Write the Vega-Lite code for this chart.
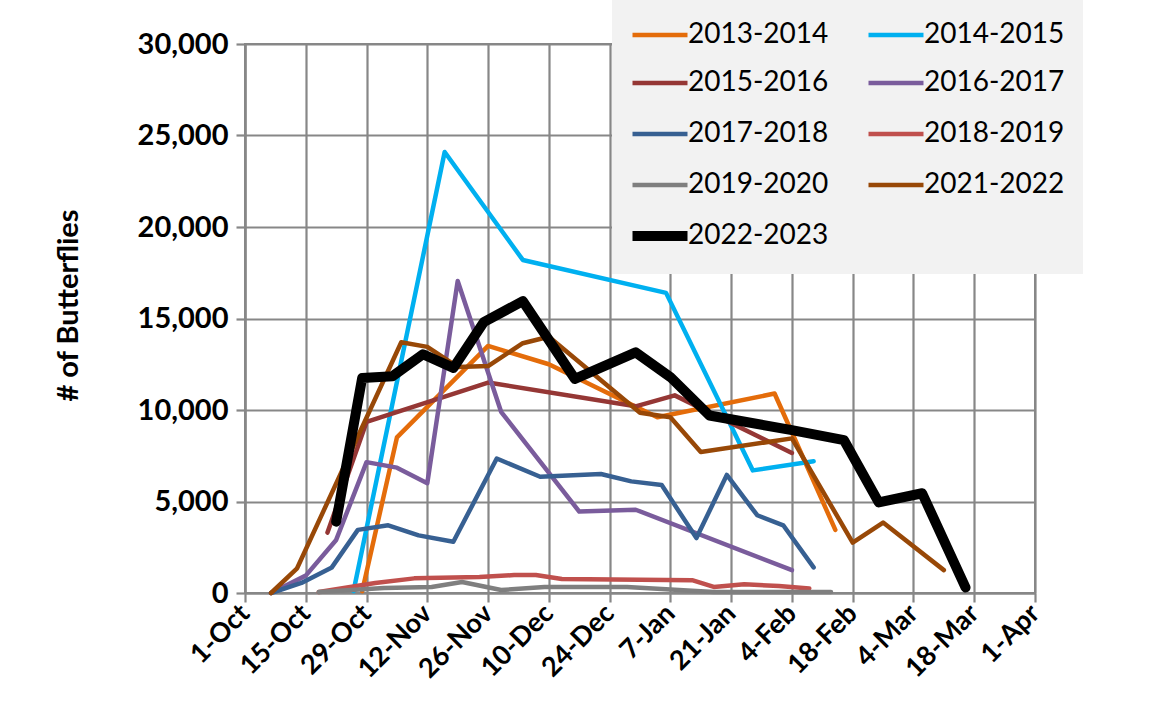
{
  "$schema": "https://vega.github.io/schema/vega-lite/v6.json",
  "width": 790,
  "height": 549,
  "autosize": {"type": "none"},
  "padding": {"left": 245, "top": 44, "right": 116, "bottom": 128},
  "background": "white",
  "config": {
    "font": "Lato",
    "view": {"stroke": "#878787", "strokeWidth": 2},
    "axis": {
      "gridColor": "#878787", "gridWidth": 2.2, "gridOpacity": 1,
      "domainColor": "#878787", "domainWidth": 2.2,
      "tickColor": "#878787", "tickWidth": 2.2, "tickSize": 9,
      "labelColor": "#000000", "labelFont": "Lato", "labelFontWeight": "bold",
      "titleColor": "#000000", "titleFont": "Lato", "titleFontWeight": "bold"
    },
    "legend": {"labelFont": "Lato"}
  },
  "data": {
    "values": [
      {"season": "2013-2014", "date": "2022-10-28", "count": 100},
      {"season": "2013-2014", "date": "2022-11-05", "count": 8500},
      {"season": "2013-2014", "date": "2022-11-26", "count": 13500},
      {"season": "2013-2014", "date": "2022-12-10", "count": 12500},
      {"season": "2013-2014", "date": "2023-01-04", "count": 9600},
      {"season": "2013-2014", "date": "2023-01-31", "count": 10900},
      {"season": "2013-2014", "date": "2023-02-14", "count": 3450},

      {"season": "2014-2015", "date": "2022-10-26", "count": 100},
      {"season": "2014-2015", "date": "2022-11-16", "count": 24100},
      {"season": "2014-2015", "date": "2022-12-04", "count": 18200},
      {"season": "2014-2015", "date": "2023-01-06", "count": 16400},
      {"season": "2014-2015", "date": "2023-01-26", "count": 6700},
      {"season": "2014-2015", "date": "2023-02-09", "count": 7200},

      {"season": "2015-2016", "date": "2022-10-20", "count": 3300},
      {"season": "2015-2016", "date": "2022-10-29", "count": 9350},
      {"season": "2015-2016", "date": "2022-11-26", "count": 11500},
      {"season": "2015-2016", "date": "2022-12-30", "count": 10200},
      {"season": "2015-2016", "date": "2023-01-08", "count": 10800},
      {"season": "2015-2016", "date": "2023-02-04", "count": 7650},

      {"season": "2016-2017", "date": "2022-10-07", "count": 0},
      {"season": "2016-2017", "date": "2022-10-15", "count": 950},
      {"season": "2016-2017", "date": "2022-10-22", "count": 2900},
      {"season": "2016-2017", "date": "2022-10-29", "count": 7150},
      {"season": "2016-2017", "date": "2022-11-05", "count": 6850},
      {"season": "2016-2017", "date": "2022-11-12", "count": 6000},
      {"season": "2016-2017", "date": "2022-11-19", "count": 17050},
      {"season": "2016-2017", "date": "2022-11-29", "count": 9900},
      {"season": "2016-2017", "date": "2022-12-17", "count": 4450},
      {"season": "2016-2017", "date": "2022-12-30", "count": 4550},
      {"season": "2016-2017", "date": "2023-02-04", "count": 1250},

      {"season": "2017-2018", "date": "2022-10-07", "count": 0},
      {"season": "2017-2018", "date": "2022-10-14", "count": 550},
      {"season": "2017-2018", "date": "2022-10-21", "count": 1400},
      {"season": "2017-2018", "date": "2022-10-27", "count": 3450},
      {"season": "2017-2018", "date": "2022-11-03", "count": 3700},
      {"season": "2017-2018", "date": "2022-11-10", "count": 3150},
      {"season": "2017-2018", "date": "2022-11-18", "count": 2800},
      {"season": "2017-2018", "date": "2022-11-28", "count": 7350},
      {"season": "2017-2018", "date": "2022-12-08", "count": 6350},
      {"season": "2017-2018", "date": "2022-12-22", "count": 6500},
      {"season": "2017-2018", "date": "2022-12-29", "count": 6100},
      {"season": "2017-2018", "date": "2023-01-05", "count": 5900},
      {"season": "2017-2018", "date": "2023-01-13", "count": 3000},
      {"season": "2017-2018", "date": "2023-01-20", "count": 6450},
      {"season": "2017-2018", "date": "2023-01-27", "count": 4250},
      {"season": "2017-2018", "date": "2023-02-02", "count": 3700},
      {"season": "2017-2018", "date": "2023-02-09", "count": 1400},

      {"season": "2018-2019", "date": "2022-10-18", "count": 50},
      {"season": "2018-2019", "date": "2022-10-31", "count": 550},
      {"season": "2018-2019", "date": "2022-11-09", "count": 800},
      {"season": "2018-2019", "date": "2022-11-24", "count": 880},
      {"season": "2018-2019", "date": "2022-12-02", "count": 980},
      {"season": "2018-2019", "date": "2022-12-07", "count": 980},
      {"season": "2018-2019", "date": "2022-12-13", "count": 770},
      {"season": "2018-2019", "date": "2022-12-31", "count": 720},
      {"season": "2018-2019", "date": "2023-01-12", "count": 700},
      {"season": "2018-2019", "date": "2023-01-17", "count": 330},
      {"season": "2018-2019", "date": "2023-01-24", "count": 480},
      {"season": "2018-2019", "date": "2023-02-01", "count": 380},
      {"season": "2018-2019", "date": "2023-02-08", "count": 250},

      {"season": "2019-2020", "date": "2022-10-18", "count": 50},
      {"season": "2019-2020", "date": "2022-11-02", "count": 270},
      {"season": "2019-2020", "date": "2022-11-13", "count": 330},
      {"season": "2019-2020", "date": "2022-11-20", "count": 600},
      {"season": "2019-2020", "date": "2022-11-29", "count": 160},
      {"season": "2019-2020", "date": "2022-12-09", "count": 330},
      {"season": "2019-2020", "date": "2022-12-28", "count": 330},
      {"season": "2019-2020", "date": "2023-01-17", "count": 60},
      {"season": "2019-2020", "date": "2023-02-13", "count": 50},

      {"season": "2021-2022", "date": "2022-10-07", "count": 0},
      {"season": "2021-2022", "date": "2022-10-13", "count": 1350},
      {"season": "2021-2022", "date": "2022-11-06", "count": 13700},
      {"season": "2021-2022", "date": "2022-11-12", "count": 13450},
      {"season": "2021-2022", "date": "2022-11-19", "count": 12350},
      {"season": "2021-2022", "date": "2022-11-26", "count": 12400},
      {"season": "2021-2022", "date": "2022-12-04", "count": 13650},
      {"season": "2021-2022", "date": "2022-12-10", "count": 14000},
      {"season": "2021-2022", "date": "2022-12-31", "count": 9850},
      {"season": "2021-2022", "date": "2023-01-07", "count": 9600},
      {"season": "2021-2022", "date": "2023-01-14", "count": 7700},
      {"season": "2021-2022", "date": "2023-02-04", "count": 8450},
      {"season": "2021-2022", "date": "2023-02-18", "count": 2750},
      {"season": "2021-2022", "date": "2023-02-25", "count": 3850},
      {"season": "2021-2022", "date": "2023-03-11", "count": 1250},

      {"season": "2022-2023", "date": "2022-10-22", "count": 3900},
      {"season": "2022-2023", "date": "2022-10-28", "count": 11750},
      {"season": "2022-2023", "date": "2022-11-04", "count": 11850},
      {"season": "2022-2023", "date": "2022-11-11", "count": 13050},
      {"season": "2022-2023", "date": "2022-11-18", "count": 12300},
      {"season": "2022-2023", "date": "2022-11-25", "count": 14800},
      {"season": "2022-2023", "date": "2022-12-04", "count": 15950},
      {"season": "2022-2023", "date": "2022-12-16", "count": 11700},
      {"season": "2022-2023", "date": "2022-12-30", "count": 13150},
      {"season": "2022-2023", "date": "2023-01-07", "count": 11800},
      {"season": "2022-2023", "date": "2023-01-16", "count": 9700},
      {"season": "2022-2023", "date": "2023-02-04", "count": 8900},
      {"season": "2022-2023", "date": "2023-02-16", "count": 8350},
      {"season": "2022-2023", "date": "2023-02-24", "count": 4950},
      {"season": "2022-2023", "date": "2023-03-06", "count": 5450},
      {"season": "2022-2023", "date": "2023-03-16", "count": 300}
    ]
  },
  "mark": {"type": "line", "strokeCap": "round", "strokeJoin": "round"},
  "encoding": {
    "x": {
      "field": "date", "type": "temporal",
      "scale": {"type": "utc", "domain": [{"year": 2022, "month": 10, "date": 1, "utc": true}, {"year": 2023, "month": 4, "date": 1, "utc": true}]},
      "axis": {
        "title": null, "format": "%-d-%b", "labelAngle": -45, "labelAlign": "right", "labelBaseline": "middle",
        "labelFontSize": 27, "labelPadding": 7, "labelOverlap": false, "labelBound": false, "labelFlush": false,
        "values": [
          {"year": 2022, "month": 10, "date": 1, "utc": true},
          {"year": 2022, "month": 10, "date": 15, "utc": true},
          {"year": 2022, "month": 10, "date": 29, "utc": true},
          {"year": 2022, "month": 11, "date": 12, "utc": true},
          {"year": 2022, "month": 11, "date": 26, "utc": true},
          {"year": 2022, "month": 12, "date": 10, "utc": true},
          {"year": 2022, "month": 12, "date": 24, "utc": true},
          {"year": 2023, "month": 1, "date": 7, "utc": true},
          {"year": 2023, "month": 1, "date": 21, "utc": true},
          {"year": 2023, "month": 2, "date": 4, "utc": true},
          {"year": 2023, "month": 2, "date": 18, "utc": true},
          {"year": 2023, "month": 3, "date": 4, "utc": true},
          {"year": 2023, "month": 3, "date": 18, "utc": true},
          {"year": 2023, "month": 4, "date": 1, "utc": true}
        ]
      }
    },
    "y": {
      "field": "count", "type": "quantitative",
      "scale": {"domain": [0, 30000], "nice": false},
      "axis": {
        "title": "# of Butterflies", "values": [0, 5000, 10000, 15000, 20000, 25000, 30000], "format": ",.0f",
        "labelFontSize": 29, "labelPadding": 8, "titleFontSize": 29, "titleX": -177, "titleY": 261, "titleAngle": -90,
        "titleAlign": "center", "titleBaseline": "middle"
      }
    },
    "color": {
      "field": "season", "type": "nominal",
      "scale": {
        "domain": ["2013-2014", "2014-2015", "2015-2016", "2016-2017", "2017-2018", "2018-2019", "2019-2020", "2021-2022", "2022-2023"],
        "range": ["#E46C0A", "#00B0F0", "#953735", "#7A5C9C", "#376092", "#C0504D", "#7F7F7F", "#984807", "#000000"]
      },
      "legend": {
        "title": null, "orient": "none", "legendX": 367, "legendY": -44, "direction": "horizontal", "columns": 2,
        "fillColor": "#F2F2F2", "padding": 18, "symbolType": "stroke", "symbolSize": 3025, "symbolStrokeWidth": 4.5,
        "symbolOffset": 16,
        "labelFontSize": 28, "labelColor": "#000000", "labelOffset": 14, "columnPadding": 30, "rowPadding": 11,
        "gridAlign": "all",
        "encode": {"symbols": {"update": {"strokeWidth": {"signal": "datum.value === '2022-2023' ? 10 : 4.5"}}}}
      }
    },
    "strokeWidth": {
      "condition": {"test": "datum.season === '2022-2023'", "value": 10},
      "value": 4.5
    }
  }
}
